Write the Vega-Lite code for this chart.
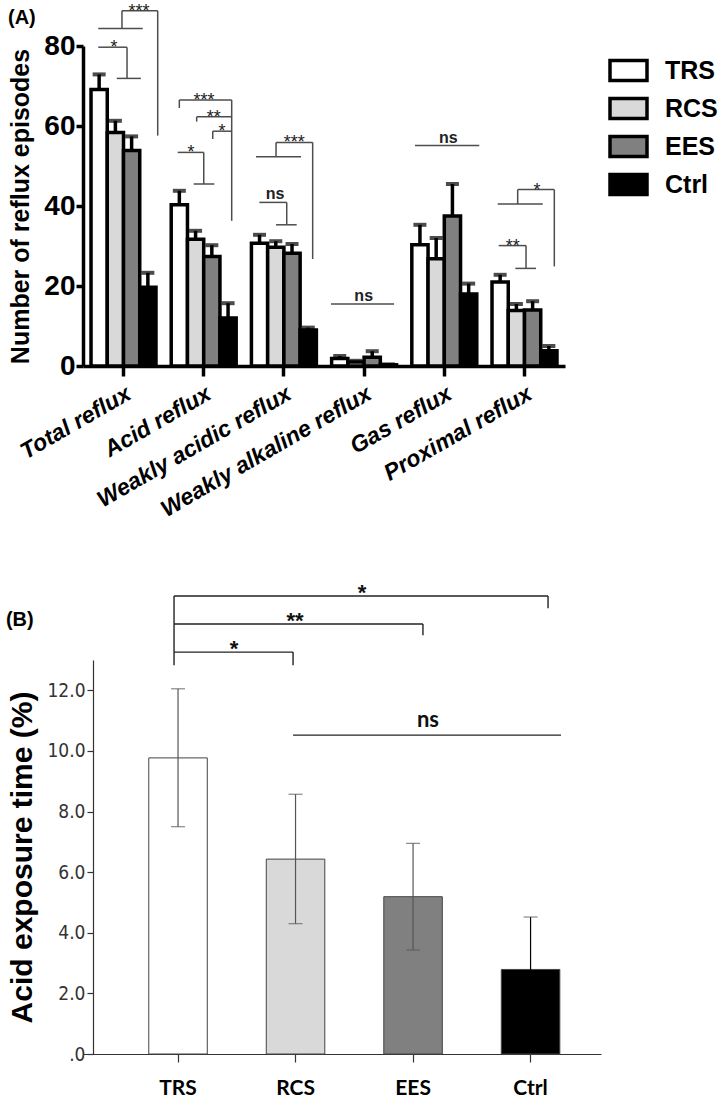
{
  "$schema": "https://vega.github.io/schema/vega-lite/v6.json",
  "background": "white",
  "padding": {"left": 5, "top": 2, "right": 0, "bottom": 0},
  "config": {"view": {"stroke": null}, "font": "Liberation Sans", "axis": {"grid": false}},
  "datasets": {
    "a": [
      {"cat": "Total reflux", "grp": "TRS", "mean": 69.1, "upper": 72.9},
      {"cat": "Total reflux", "grp": "RCS", "mean": 58.4, "upper": 61.3},
      {"cat": "Total reflux", "grp": "EES", "mean": 53.9, "upper": 57.4},
      {"cat": "Total reflux", "grp": "Ctrl", "mean": 19.7, "upper": 23.3},
      {"cat": "Acid reflux", "grp": "TRS", "mean": 40.3, "upper": 43.8},
      {"cat": "Acid reflux", "grp": "RCS", "mean": 31.7, "upper": 33.8},
      {"cat": "Acid reflux", "grp": "EES", "mean": 27.4, "upper": 30.2},
      {"cat": "Acid reflux", "grp": "Ctrl", "mean": 12.0, "upper": 15.7},
      {"cat": "Weakly acidic reflux", "grp": "TRS", "mean": 30.7, "upper": 32.8},
      {"cat": "Weakly acidic reflux", "grp": "RCS", "mean": 29.7, "upper": 31.2},
      {"cat": "Weakly acidic reflux", "grp": "EES", "mean": 28.2, "upper": 30.5},
      {"cat": "Weakly acidic reflux", "grp": "Ctrl", "mean": 9.0, "upper": 9.6},
      {"cat": "Weakly alkaline reflux", "grp": "TRS", "mean": 1.9, "upper": 2.5},
      {"cat": "Weakly alkaline reflux", "grp": "RCS", "mean": 1.0, "upper": 1.3},
      {"cat": "Weakly alkaline reflux", "grp": "EES", "mean": 2.2, "upper": 3.7},
      {"cat": "Weakly alkaline reflux", "grp": "Ctrl", "mean": 0.3, "upper": 0.4},
      {"cat": "Gas reflux", "grp": "TRS", "mean": 30.3, "upper": 35.3},
      {"cat": "Gas reflux", "grp": "RCS", "mean": 26.8, "upper": 32.0},
      {"cat": "Gas reflux", "grp": "EES", "mean": 37.5, "upper": 45.5},
      {"cat": "Gas reflux", "grp": "Ctrl", "mean": 18.0, "upper": 20.6},
      {"cat": "Proximal reflux", "grp": "TRS", "mean": 21.0, "upper": 22.8},
      {"cat": "Proximal reflux", "grp": "RCS", "mean": 13.9, "upper": 15.5},
      {"cat": "Proximal reflux", "grp": "EES", "mean": 14.0, "upper": 16.2},
      {"cat": "Proximal reflux", "grp": "Ctrl", "mean": 3.8, "upper": 5.0}
    ],
    "aseg": [
      {"x1": 0.485, "x2": 0.930, "y1": 88.8, "y2": 88.8},
      {"x1": 0.485, "x2": 0.485, "y1": 88.8, "y2": 84.4},
      {"x1": 0.190, "x2": 0.743, "y1": 84.4, "y2": 84.4},
      {"x1": 0.930, "x2": 0.930, "y1": 88.8, "y2": 57.6},
      {"x1": 0.190, "x2": 0.548, "y1": 79.7, "y2": 79.7},
      {"x1": 0.548, "x2": 0.548, "y1": 79.7, "y2": 71.9},
      {"x1": 0.420, "x2": 0.720, "y1": 71.9, "y2": 71.9},
      {"x1": 1.199, "x2": 1.851, "y1": 66.5, "y2": 66.5},
      {"x1": 1.199, "x2": 1.199, "y1": 66.5, "y2": 64.5},
      {"x1": 1.851, "x2": 1.851, "y1": 66.5, "y2": 36.3},
      {"x1": 1.415, "x2": 1.851, "y1": 62.3, "y2": 62.3},
      {"x1": 1.415, "x2": 1.415, "y1": 62.3, "y2": 61.1},
      {"x1": 1.615, "x2": 1.851, "y1": 58.7, "y2": 58.7},
      {"x1": 1.615, "x2": 1.615, "y1": 58.7, "y2": 56.75},
      {"x1": 1.179, "x2": 1.503, "y1": 53.4, "y2": 53.4},
      {"x1": 1.503, "x2": 1.503, "y1": 53.4, "y2": 45.5},
      {"x1": 1.378, "x2": 1.635, "y1": 45.5, "y2": 45.5},
      {"x1": 2.403, "x2": 2.859, "y1": 55.9, "y2": 55.9},
      {"x1": 2.403, "x2": 2.403, "y1": 55.9, "y2": 52.3},
      {"x1": 2.154, "x2": 2.714, "y1": 52.3, "y2": 52.3},
      {"x1": 2.859, "x2": 2.859, "y1": 55.9, "y2": 26.75},
      {"x1": 2.195, "x2": 2.536, "y1": 40.9, "y2": 40.9},
      {"x1": 2.536, "x2": 2.536, "y1": 40.9, "y2": 35.3},
      {"x1": 2.403, "x2": 2.660, "y1": 35.3, "y2": 35.3},
      {"x1": 3.087, "x2": 3.872, "y1": 15.5, "y2": 15.5},
      {"x1": 4.133, "x2": 4.933, "y1": 55.1, "y2": 55.1},
      {"x1": 5.411, "x2": 5.867, "y1": 44.1, "y2": 44.1},
      {"x1": 5.411, "x2": 5.411, "y1": 44.1, "y2": 40.5},
      {"x1": 5.162, "x2": 5.723, "y1": 40.5, "y2": 40.5},
      {"x1": 5.867, "x2": 5.867, "y1": 44.1, "y2": 24.9},
      {"x1": 5.175, "x2": 5.515, "y1": 30.1, "y2": 30.1},
      {"x1": 5.515, "x2": 5.515, "y1": 30.1, "y2": 24.4},
      {"x1": 5.382, "x2": 5.639, "y1": 24.4, "y2": 24.4}
    ],
    "astar": [
      {"x": 0.697, "y": 88.8, "t": "***"},
      {"x": 0.386, "y": 79.7, "t": "*"},
      {"x": 1.506, "y": 66.5, "t": "***"},
      {"x": 1.627, "y": 62.3, "t": "**"},
      {"x": 1.730, "y": 58.7, "t": "*"},
      {"x": 1.344, "y": 53.4, "t": "*"},
      {"x": 2.630, "y": 55.9, "t": "***"},
      {"x": 5.652, "y": 44.1, "t": "*"},
      {"x": 5.349, "y": 30.1, "t": "**"}
    ],
    "ans": [
      {"x": 2.390, "y": 40.9, "t": "ns"},
      {"x": 3.494, "y": 15.5, "t": "ns"},
      {"x": 4.547, "y": 55.1, "t": "ns"}
    ],
    "alab": [
      {"x": -0.934, "y": 85.5, "t": "(A)"}
    ],
    "b": [
      {"grp": "TRS", "mean": 9.77, "lo": 7.5, "hi": 12.05},
      {"grp": "RCS", "mean": 6.43, "lo": 4.3, "hi": 8.57},
      {"grp": "EES", "mean": 5.19, "lo": 3.43, "hi": 6.95},
      {"grp": "Ctrl", "mean": 2.79, "lo": 1.05, "hi": 4.52}
    ],
    "bseg": [
      {"x1": 0.703, "x2": 0.703, "y1": 15.11, "y2": 12.83},
      {"x1": 0.703, "x2": 3.591, "y1": 15.11, "y2": 15.11},
      {"x1": 3.591, "x2": 3.591, "y1": 15.11, "y2": 14.71},
      {"x1": 0.703, "x2": 2.625, "y1": 14.19, "y2": 14.19},
      {"x1": 2.625, "x2": 2.625, "y1": 14.19, "y2": 13.82},
      {"x1": 0.703, "x2": 1.622, "y1": 13.26, "y2": 13.26},
      {"x1": 1.622, "x2": 1.622, "y1": 13.26, "y2": 12.83},
      {"x1": 1.622, "x2": 3.691, "y1": 10.52, "y2": 10.52}
    ],
    "bstar": [
      {"x": 2.154, "y": 15.11, "t": "*"},
      {"x": 1.637, "y": 14.19, "t": "**"},
      {"x": 1.166, "y": 13.26, "t": "*"}
    ],
    "bns": [
      {"x": 2.664, "y": 10.52, "t": "ns"}
    ],
    "blab": [
      {"x": -0.595, "y": 14.12, "t": "(B)"}
    ]
  },
  "columns": 1,
  "align": "none",
  "spacing": 60,
  "concat": [
    {
      "width": 482,
      "height": 320,
      "resolve": {"scale": {"x": "independent", "y": "independent"}, "axis": {"x": "independent", "y": "independent"}},
      "layer": [
        {
          "data": {"name": "a"},
          "encoding": {
            "x": {"field": "cat", "type": "nominal", "sort": null,
              "scale": {"paddingInner": 0.19, "paddingOuter": 0.1},
              "axis": {"title": null, "labelAngle": -30, "labelAlign": "right", "labelBaseline": "top", "labelFont": "Liberation Sans", "labelFontSize": 23, "labelFontWeight": "bold", "labelFontStyle": "italic", "labelColor": "black", "labelPadding": 6, "labelLimit": 0, "tickSize": 10, "tickWidth": 3.5, "tickColor": "black", "domainWidth": 3.5, "domainColor": "black", "labelOverlap": false}},
            "xOffset": {"field": "grp", "type": "nominal", "scale": {"domain": ["TRS", "RCS", "EES", "Ctrl"], "paddingInner": 0, "paddingOuter": 0}}
          },
          "layer": [
            {
              "mark": {"type": "bar", "stroke": "black", "strokeWidth": 3.5},
              "encoding": {
                "y": {"field": "mean", "type": "quantitative", "stack": null,
                  "scale": {"domain": [0, 80], "nice": false},
                  "axis": {"values": [0, 20, 40, 60, 80], "title": "Number of reflux episodes", "titleFont": "Liberation Sans", "titleFontSize": 25, "titleFontWeight": "bold", "titleColor": "black", "titlePadding": 10, "labelFont": "Liberation Sans", "labelFontSize": 28, "labelFontWeight": "bold", "labelColor": "black", "labelPadding": 1, "tickSize": 7, "tickWidth": 3.5, "tickColor": "black", "domainWidth": 3.5, "domainColor": "black"}},
                "fill": {"field": "grp", "type": "nominal",
                  "scale": {"domain": ["TRS", "RCS", "EES", "Ctrl"], "range": ["#ffffff", "#d9d9d9", "#808080", "#000000"]},
                  "legend": {"title": null, "orient": "right", "offset": 3, "padding": 4, "symbolType": "M-1,-0.54H1V0.54H-1Z", "symbolSize": 1369, "symbolStrokeColor": "black", "symbolStrokeWidth": 3.5, "labelFont": "Liberation Sans", "labelFontSize": 25, "labelFontWeight": "bold", "labelColor": "black", "labelOffset": 16, "rowPadding": 0}}
              }
            },
            {
              "mark": {"type": "rule", "color": "black", "strokeWidth": 3.5},
              "encoding": {
                "y": {"field": "mean", "type": "quantitative", "stack": null},
                "y2": {"field": "upper"}
              }
            },
            {
              "mark": {"type": "tick", "color": "black", "thickness": 4, "size": 13},
              "encoding": {
                "y": {"field": "upper", "type": "quantitative", "stack": null}
              }
            }
          ]
        },
        {
          "layer": [
            {
              "data": {"name": "aseg"},
              "mark": {"type": "rule", "color": "#4d4d4d", "strokeWidth": 1.5},
              "encoding": {
                "x": {"field": "x1", "type": "quantitative", "scale": {"domain": [0, 6], "nice": false, "zero": false}, "axis": null},
                "x2": {"field": "x2"},
                "y": {"field": "y1", "type": "quantitative", "scale": {"domain": [0, 80], "nice": false}, "axis": null},
                "y2": {"field": "y2"}
              }
            },
            {
              "data": {"name": "astar"},
              "mark": {"type": "text", "font": "Liberation Sans", "fontSize": 18, "color": "#222", "align": "center", "baseline": "alphabetic", "dy": 6},
              "encoding": {
                "x": {"field": "x", "type": "quantitative", "scale": {"domain": [0, 6], "nice": false, "zero": false}, "axis": null},
                "y": {"field": "y", "type": "quantitative", "scale": {"domain": [0, 80], "nice": false}, "axis": null},
                "text": {"field": "t"}
              }
            },
            {
              "data": {"name": "ans"},
              "mark": {"type": "text", "font": "Liberation Sans", "fontSize": 16, "fontWeight": "bold", "color": "#222", "align": "center", "baseline": "alphabetic", "dy": -3},
              "encoding": {
                "x": {"field": "x", "type": "quantitative", "scale": {"domain": [0, 6], "nice": false, "zero": false}, "axis": null},
                "y": {"field": "y", "type": "quantitative", "scale": {"domain": [0, 80], "nice": false}, "axis": null},
                "text": {"field": "t"}
              }
            },
            {
              "data": {"name": "alab"},
              "mark": {"type": "text", "font": "Liberation Sans", "fontSize": 20, "fontWeight": "bold", "color": "black", "align": "left", "baseline": "alphabetic"},
              "encoding": {
                "x": {"field": "x", "type": "quantitative", "scale": {"domain": [0, 6], "nice": false, "zero": false}, "axis": null},
                "y": {"field": "y", "type": "quantitative", "scale": {"domain": [0, 80], "nice": false}, "axis": null},
                "text": {"field": "t"}
              }
            }
          ]
        }
      ]
    },
    {
      "width": 518,
      "height": 394,
      "resolve": {"scale": {"x": "independent", "y": "independent"}, "axis": {"x": "independent", "y": "independent"}},
      "layer": [
        {
          "data": {"name": "b"},
          "encoding": {
            "x": {"field": "grp", "type": "nominal", "sort": ["TRS", "RCS", "EES", "Ctrl"],
              "scale": {"paddingInner": 0.502, "paddingOuter": 0.455, "align": 0.615},
              "axis": {"title": null, "labelAngle": 0, "labelFont": "Lato", "labelFontSize": 21, "labelFontWeight": "bold", "labelColor": "black", "labelPadding": 15, "tickSize": 8, "tickColor": "#333", "tickWidth": 1.2, "domainColor": "#333", "domainWidth": 1.2}}
          },
          "layer": [
            {
              "mark": {"type": "bar", "stroke": "#444", "strokeWidth": 1},
              "encoding": {
                "y": {"field": "mean", "type": "quantitative", "stack": null,
                  "scale": {"domain": [0, 13], "nice": false},
                  "axis": {"offset": -10, "values": [0, 2, 4, 6, 8, 10, 12], "labelExpr": "datum.value == 0 ? '.0' : format(datum.value, '.1f')", "title": "Acid exposure time (%)", "titleFont": "Liberation Sans", "titleFontSize": 30, "titleFontWeight": "bold", "titleColor": "black", "titlePadding": 9, "labelFont": "DejaVu Sans Condensed", "labelFontSize": 19, "labelColor": "#333", "labelPadding": 2, "tickSize": 6, "tickColor": "#333", "tickWidth": 1.2, "domainColor": "#333", "domainWidth": 1.2}},
                "fill": {"field": "grp", "type": "nominal", "scale": {"domain": ["TRS", "RCS", "EES", "Ctrl"], "range": ["#ffffff", "#d0d0d0", "#666666", "#000000"]}, "legend": null}
              }
            },
            {
              "mark": {"type": "rule", "strokeWidth": 1.2},
              "encoding": {
                "y": {"field": "lo", "type": "quantitative"},
                "y2": {"field": "hi"},
                "color": {"condition": {"test": "datum.grp === 'Ctrl'", "value": "#000"}, "value": "#555"}
              }
            },
            {
              "mark": {"type": "tick", "thickness": 1.2, "size": 14},
              "encoding": {
                "y": {"field": "lo", "type": "quantitative"},
                "color": {"condition": {"test": "datum.grp === 'Ctrl'", "value": "#000"}, "value": "#555"}
              }
            },
            {
              "mark": {"type": "tick", "thickness": 1.2, "size": 14, "color": "#555"},
              "encoding": {
                "y": {"field": "hi", "type": "quantitative"}
              }
            }
          ]
        },
        {
          "layer": [
            {
              "data": {"name": "bseg"},
              "mark": {"type": "rule", "color": "#222", "strokeWidth": 1.4},
              "encoding": {
                "x": {"field": "x1", "type": "quantitative", "scale": {"domain": [0, 4], "nice": false, "zero": false}, "axis": null},
                "x2": {"field": "x2"},
                "y": {"field": "y1", "type": "quantitative", "scale": {"domain": [0, 13], "nice": false}, "axis": null},
                "y2": {"field": "y2"}
              }
            },
            {
              "data": {"name": "bstar"},
              "mark": {"type": "text", "font": "Liberation Sans", "fontSize": 22, "fontWeight": "bold", "color": "#111", "align": "center", "baseline": "alphabetic", "dy": 4},
              "encoding": {
                "x": {"field": "x", "type": "quantitative", "scale": {"domain": [0, 4], "nice": false, "zero": false}, "axis": null},
                "y": {"field": "y", "type": "quantitative", "scale": {"domain": [0, 13], "nice": false}, "axis": null},
                "text": {"field": "t"}
              }
            },
            {
              "data": {"name": "bns"},
              "mark": {"type": "text", "font": "Lato", "fontSize": 22, "fontWeight": "bold", "color": "#111", "align": "center", "baseline": "alphabetic", "dy": -8},
              "encoding": {
                "x": {"field": "x", "type": "quantitative", "scale": {"domain": [0, 4], "nice": false, "zero": false}, "axis": null},
                "y": {"field": "y", "type": "quantitative", "scale": {"domain": [0, 13], "nice": false}, "axis": null},
                "text": {"field": "t"}
              }
            },
            {
              "data": {"name": "blab"},
              "mark": {"type": "text", "font": "Liberation Sans", "fontSize": 20, "fontWeight": "bold", "color": "black", "align": "left", "baseline": "alphabetic"},
              "encoding": {
                "x": {"field": "x", "type": "quantitative", "scale": {"domain": [0, 4], "nice": false, "zero": false}, "axis": null},
                "y": {"field": "y", "type": "quantitative", "scale": {"domain": [0, 13], "nice": false}, "axis": null},
                "text": {"field": "t"}
              }
            }
          ]
        }
      ]
    }
  ]
}
